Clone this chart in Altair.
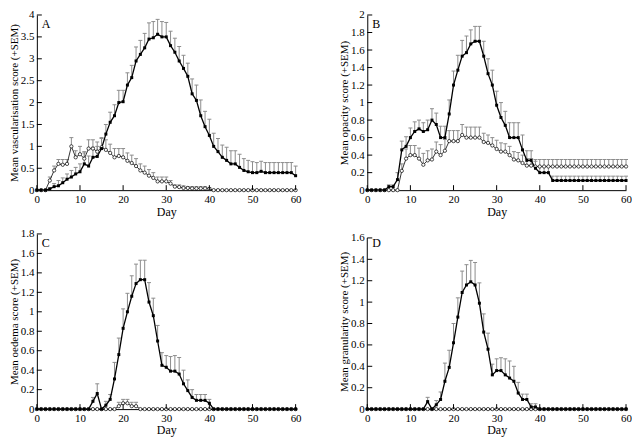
import altair as alt
import pandas as pd

days = list(range(61))

# Panel A: vascularisation
A_closed = [0, 0, 0, 0.03, 0.08, 0.1, 0.17, 0.25, 0.3, 0.37,
            0.42, 0.6, 0.55, 0.75, 0.77, 0.95, 1.28, 1.55, 1.7, 2.0,
            2.02, 2.4, 2.57, 2.95, 3.1, 3.25, 3.45, 3.48, 3.56, 3.5,
            3.5, 3.3, 3.15, 2.95, 2.78, 2.6, 2.2, 2.05, 1.7, 1.45,
            1.25, 1.0, 0.88, 0.75, 0.68, 0.6, 0.6, 0.52, 0.45, 0.42,
            0.4, 0.4, 0.43, 0.4, 0.4, 0.4, 0.4, 0.4, 0.4, 0.4,
            0.33]
A_closed_sem = [0, 0, 0, 0.02, 0.07, 0.12, 0.11, 0.12, 0.15, 0.15,
                0.18, 0.25, 0.23, 0.23, 0.23, 0.25, 0.22, 0.23, 0.25, 0.28,
                0.26, 0.28, 0.28, 0.32, 0.32, 0.33, 0.37, 0.37, 0.34, 0.35,
                0.33, 0.33, 0.32, 0.33, 0.3, 0.3, 0.34, 0.35, 0.36, 0.35,
                0.37, 0.3, 0.3, 0.28, 0.3, 0.3, 0.3, 0.3, 0.27, 0.26,
                0.25, 0.23, 0.23, 0.23, 0.23, 0.23, 0.23, 0.23, 0.23, 0.23,
                0.22]
A_open = [0, 0, 0, 0.22, 0.45, 0.6, 0.58, 0.6, 1.0, 0.75,
          0.82, 0.72, 0.95, 0.95, 0.88, 0.98, 0.92, 0.85, 0.75, 0.78,
          0.75, 0.67, 0.62, 0.55, 0.45, 0.4, 0.33, 0.28, 0.2, 0.2,
          0.2, 0.15, 0.08, 0.07, 0.05, 0.05, 0.04, 0.04, 0.04, 0.04,
          0.03, 0, 0, 0, 0, 0, 0, 0, 0, 0,
          0, 0, 0, 0, 0, 0, 0, 0, 0, 0,
          0]
A_open_sem = [0, 0, 0, 0.08, 0.1, 0.1, 0.12, 0.1, 0.2, 0.15,
              0.18, 0.16, 0.2, 0.2, 0.22, 0.2, 0.23, 0.2, 0.2, 0.17,
              0.2, 0.18, 0.18, 0.17, 0.15, 0.15, 0.14, 0.12, 0.1, 0.1,
              0.1, 0.07, 0.04, 0.05, 0.05, 0.03, 0.04, 0.04, 0.04, 0.04,
              0.03, 0, 0, 0, 0, 0, 0, 0, 0, 0,
              0, 0, 0, 0, 0, 0, 0, 0, 0, 0,
              0]

# Panel B: opacity
B_closed = [0, 0, 0, 0, 0, 0.04, 0.04, 0.12, 0.46, 0.5,
            0.6, 0.67, 0.7, 0.67, 0.69, 0.8, 0.75, 0.6, 0.6, 0.87,
            1.2, 1.37, 1.53, 1.57, 1.67, 1.7, 1.7, 1.53, 1.33, 1.2,
            0.97, 0.83, 0.74, 0.6, 0.6, 0.6, 0.46, 0.34, 0.34, 0.25,
            0.2, 0.2, 0.2, 0.11, 0.11, 0.11, 0.11, 0.11, 0.11, 0.11,
            0.11, 0.11, 0.11, 0.11, 0.11, 0.11, 0.11, 0.11, 0.11, 0.11,
            0.11]
B_closed_sem = [0, 0, 0, 0, 0, 0.02, 0.02, 0.08, 0.1, 0.11,
                0.11, 0.11, 0.1, 0.1, 0.11, 0.13, 0.13, 0.13, 0.13, 0.16,
                0.16, 0.17, 0.18, 0.19, 0.16, 0.17, 0.17, 0.17, 0.17, 0.17,
                0.16, 0.17, 0.16, 0.17, 0.17, 0.17, 0.17, 0.11, 0.11, 0.08,
                0.07, 0.07, 0.07, 0.05, 0.05, 0.05, 0.05, 0.05, 0.05, 0.05,
                0.05, 0.05, 0.05, 0.05, 0.05, 0.05, 0.05, 0.05, 0.05, 0.05,
                0.05]
B_open = [0, 0, 0, 0, 0, 0, 0, 0, 0.22, 0.36,
          0.4, 0.4, 0.36, 0.29, 0.34, 0.35, 0.44, 0.4, 0.45, 0.56,
          0.56, 0.56, 0.63, 0.6, 0.6, 0.6, 0.6, 0.55, 0.54, 0.51,
          0.47, 0.44, 0.44, 0.4, 0.35, 0.34, 0.31, 0.28, 0.28, 0.27,
          0.27, 0.27, 0.27, 0.27, 0.27, 0.27, 0.27, 0.27, 0.27, 0.27,
          0.27, 0.27, 0.27, 0.27, 0.27, 0.27, 0.27, 0.27, 0.27, 0.27,
          0.27]
B_open_sem = [0, 0, 0, 0, 0, 0, 0, 0, 0.08, 0.11,
              0.11, 0.11, 0.12, 0.13, 0.11, 0.12, 0.11, 0.12, 0.13, 0.12,
              0.12, 0.12, 0.12, 0.12, 0.12, 0.12, 0.12, 0.1, 0.09, 0.09,
              0.1, 0.1, 0.09, 0.1, 0.09, 0.09, 0.09, 0.08, 0.08, 0.08,
              0.08, 0.08, 0.08, 0.08, 0.08, 0.08, 0.08, 0.08, 0.08, 0.08,
              0.08, 0.08, 0.08, 0.08, 0.08, 0.08, 0.08, 0.08, 0.08, 0.08,
              0.08]

# Panel C: oedema
C_closed = [0, 0, 0, 0, 0, 0, 0, 0, 0, 0,
            0, 0, 0, 0.08, 0.16, 0, 0.04, 0.1, 0.31, 0.56,
            0.83, 1.0, 1.16, 1.29, 1.33, 1.33, 1.1, 0.96, 0.7, 0.45,
            0.43, 0.39, 0.39, 0.36, 0.26, 0.19, 0.12, 0.09, 0.09, 0.09,
            0.06, 0, 0, 0, 0, 0, 0, 0, 0, 0,
            0, 0, 0, 0, 0, 0, 0, 0, 0, 0,
            0]
C_closed_sem = [0, 0, 0, 0, 0, 0, 0, 0, 0, 0,
                0, 0, 0, 0.04, 0.1, 0, 0.04, 0.05, 0.17, 0.17,
                0.2, 0.19, 0.21, 0.2, 0.2, 0.2, 0.2, 0.18, 0.16, 0.13,
                0.12, 0.15, 0.16, 0.17, 0.14, 0.11, 0.08, 0.06, 0.06, 0.06,
                0.04, 0, 0, 0, 0, 0, 0, 0, 0, 0,
                0, 0, 0, 0, 0, 0, 0, 0, 0, 0,
                0]
C_open = [0, 0, 0, 0, 0, 0, 0, 0, 0, 0,
          0, 0, 0, 0, 0, 0, 0, 0, 0, 0.03,
          0.06, 0.06, 0.03, 0.03, 0, 0, 0, 0, 0, 0,
          0, 0, 0, 0, 0, 0, 0, 0, 0, 0,
          0, 0, 0, 0, 0, 0, 0, 0, 0, 0,
          0, 0, 0, 0, 0, 0, 0, 0, 0, 0,
          0]
C_open_sem = [0, 0, 0, 0, 0, 0, 0, 0, 0, 0,
              0, 0, 0, 0, 0, 0, 0, 0, 0, 0.04,
              0.04, 0.04, 0.04, 0.04, 0, 0, 0, 0, 0, 0,
              0, 0, 0, 0, 0, 0, 0, 0, 0, 0,
              0, 0, 0, 0, 0, 0, 0, 0, 0, 0,
              0, 0, 0, 0, 0, 0, 0, 0, 0, 0,
              0]

# Panel D: granularity
D_closed = [0, 0, 0, 0, 0, 0, 0, 0, 0, 0,
            0, 0, 0, 0, 0.07, 0, 0.04, 0.09, 0.26, 0.39,
            0.62, 0.86, 1.09, 1.16, 1.19, 1.16, 0.99, 0.72, 0.56, 0.32,
            0.36, 0.36, 0.32, 0.29, 0.26, 0.15, 0.09, 0.09, 0.02, 0.02,
            0, 0, 0, 0, 0, 0, 0, 0, 0, 0,
            0, 0, 0, 0, 0, 0, 0, 0, 0, 0,
            0]
D_closed_sem = [0, 0, 0, 0, 0, 0, 0, 0, 0, 0,
                0, 0, 0, 0, 0.04, 0, 0.04, 0.07, 0.17, 0.16,
                0.18, 0.18, 0.2, 0.19, 0.2, 0.21, 0.19, 0.17, 0.15, 0.1,
                0.11, 0.12, 0.15, 0.16, 0.14, 0.1, 0.05, 0.05, 0.03, 0.03,
                0, 0, 0, 0, 0, 0, 0, 0, 0, 0,
                0, 0, 0, 0, 0, 0, 0, 0, 0, 0,
                0]
D_open = [0] * 61
D_open_sem = [0] * 61

x_ticks = [0, 10, 20, 30, 40, 50, 60]
A_yticks = [0, 0.5, 1, 1.5, 2, 2.5, 3, 3.5, 4]
B_yticks = [0, 0.2, 0.4, 0.6, 0.8, 1, 1.2, 1.4, 1.6, 1.8, 2]
C_yticks = [0, 0.2, 0.4, 0.6, 0.8, 1, 1.2, 1.4, 1.6, 1.8]
D_yticks = [0, 0.2, 0.4, 0.6, 0.8, 1, 1.2, 1.4, 1.6]

FONT = "Liberation Serif"
W = 260
H = 176
TICK = 5
GRAY = "#8c8c8c"


def panel(letter, closed, closed_sem, opn, opn_sem, ytitle, yticks, ymax, axis_top):
    df = pd.DataFrame({
        "day": days + days,
        "group": ["closed"] * 61 + ["open"] * 61,
        "mean": closed + opn,
        "sem": closed_sem + opn_sem,
    })
    df["upper"] = df["mean"] + df["sem"]
    bars = df[df["sem"] > 0]
    dc = df[df["group"] == "closed"]
    do = df[df["group"] == "open"]

    xs = alt.Scale(domain=[0, 60], nice=False, zero=False)
    ys = alt.Scale(domain=[0, ymax], nice=False)
    xax = alt.Axis(values=x_ticks, title="Day", ticks=False, tickSize=0, grid=False,
                   labelOverlap=False, labelFlush=False, labelBound=False,
                   labelPadding=3, titlePadding=2, domainColor="black", domainWidth=1,
                   labelFont=FONT, titleFont=FONT, labelFontSize=11, titleFontSize=12,
                   titleFontWeight="normal", labelColor="black", titleColor="black")
    yax = alt.Axis(values=yticks, format="~g", title=ytitle, ticks=False, tickSize=0, grid=False,
                   labelOverlap=False, labelFlush=False, labelBound=False,
                   labelPadding=3, titlePadding=1, domain=(axis_top == ymax),
                   domainColor="black", domainWidth=1,
                   labelFont=FONT, titleFont=FONT, labelFontSize=11, titleFontSize=11,
                   titleFontWeight="normal", labelColor="black", titleColor="black")

    def X(field):
        return alt.X(field, type="quantitative", scale=xs, axis=xax)

    def Y(field):
        return alt.Y(field, type="quantitative", scale=ys, axis=yax)

    err = alt.Chart(bars).mark_rule(color=GRAY, strokeWidth=1).encode(
        x=X("day"), y=Y("mean"), y2="upper:Q",
    )
    caps = alt.Chart(bars).mark_tick(color=GRAY, orient="horizontal", size=4, thickness=1, opacity=1).encode(
        x=X("day"), y=Y("upper")
    )
    line_o = alt.Chart(do).mark_line(color="black", strokeWidth=0.8).encode(
        x=X("day"), y=Y("mean")
    )
    line_c = alt.Chart(dc).mark_line(color="black", strokeWidth=1.3).encode(
        x=X("day"), y=Y("mean")
    )
    pts_o = alt.Chart(do).mark_point(shape="circle", filled=True, fill="white", stroke="black",
                                     strokeWidth=0.7, size=11, opacity=1).encode(
        x=X("day"), y=Y("mean")
    )
    pts_c = alt.Chart(dc).mark_point(shape="square", filled=True, color="black",
                                     size=9, opacity=1).encode(
        x=X("day"), y=Y("mean")
    )
    xt = alt.Chart(pd.DataFrame({"t": x_ticks})).mark_rule(color="black", strokeWidth=1).encode(
        x=X("t"), y=alt.value(H), y2=alt.value(H - TICK)
    )
    yt = alt.Chart(pd.DataFrame({"t": yticks})).mark_rule(color="black", strokeWidth=1).encode(
        y=Y("t"), x=alt.value(0), x2=alt.value(TICK)
    )
    layers = [err, caps, line_o, line_c, pts_o, pts_c, xt, yt]
    if axis_top != ymax:
        ydom = alt.Chart(pd.DataFrame({"a": [0], "b": [axis_top]})).mark_rule(
            color="black", strokeWidth=1).encode(
            x=alt.value(0), y=Y("a"), y2="b:Q"
        )
        layers.append(ydom)
    lab = alt.Chart(pd.DataFrame({"label": [letter]})).mark_text(
        align="left", baseline="top", font=FONT, fontSize=12, color="black"
    ).encode(x=alt.value(5), y=alt.value(4), text="label:N")
    layers.append(lab)
    return alt.layer(*layers).properties(width=W, height=H)


pA = panel("A", A_closed, A_closed_sem, A_open, A_open_sem,
           "Mean vascularisation score (+SEM)", A_yticks, 4, 4)
pB = panel("B", B_closed, B_closed_sem, B_open, B_open_sem,
           "Mean opacity score (+SEM)", B_yticks, 2, 2)
pC = panel("C", C_closed, C_closed_sem, C_open, C_open_sem,
           "Mean oedema score (+SEM)", C_yticks, 1.8, 1.8)
pD = panel("D", D_closed, D_closed_sem, D_open, D_open_sem,
           "Mean granularity score (+SEM)", D_yticks, 1.6 * 176 / 172, 1.6)

chart = alt.concat(
    pA, pB, pC, pD, columns=2,
    spacing={"row": 44, "column": 72}, bounds="flush",
).properties(padding=0).configure_view(stroke=None).configure_axis(labelOverlap=False)

chart.save("out.html", embed_options={"renderer": "svg", "actions": False})
